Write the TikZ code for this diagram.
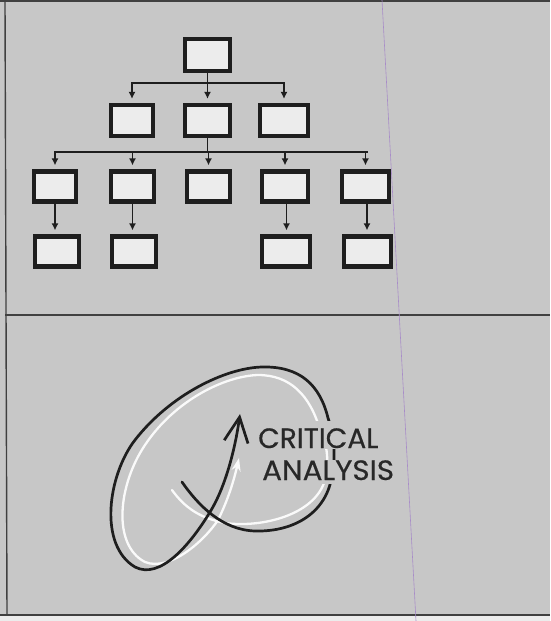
\documentclass[tikz,border=0pt]{standalone}
\usepackage{fontspec}
\setmainfont{Poppins}
\newfontfamily\labelfont{Poppins}[FakeBold=0.4]
\usetikzlibrary{arrows.meta}
\definecolor{bg}{RGB}{199,199,199}
\definecolor{stripc}{RGB}{236,236,236}
\definecolor{ink}{RGB}{30,30,30}
\definecolor{boxfill}{RGB}{236,236,236}
\definecolor{purp}{RGB}{168,140,200}
\definecolor{txt}{RGB}{40,40,40}
\tikzset{
  orgbox/.style={draw=ink, line width=4.2pt, fill=boxfill, inner sep=0pt, minimum height=30pt},
  conn/.style={draw=ink, line width=1.9pt},
  arr/.style={conn, -{Latex[length=7pt,width=7pt]}, shorten >=4pt},
  frame/.style={draw=ink!85, line width=1.4pt},
  lbl/.style={fill=bg, text=txt, inner xsep=2pt, inner ysep=0pt, font=\labelfont\fontsize{28}{30}\selectfont},
  blk/.style={draw=ink, line width=2.7pt, line cap=round},
  wht/.style={draw=white!96!gray, line width=2.3pt, line cap=round}
}
\begin{document}
\begin{tikzpicture}[x=1pt,y=-1pt]
\useasboundingbox (0,0) rectangle (550,621);
\fill[bg] (0,0) rectangle (550,616);
\fill[stripc] (0,616) rectangle (550,621);
% frame
\draw[frame] (0,1) -- (550,1);
\draw[frame] (5,0) -- (7,615);
\draw[frame] (5,315) -- (550,315);
\draw[frame] (0,615) -- (550,615);
\draw[purp, line width=0.6pt] (382,0) -- (416,621);

% org chart boxes
\node[orgbox, minimum width=45pt, minimum height=32pt] (t) at (207.5,55) {};
\node[orgbox, minimum width=42pt, minimum height=31pt] (a) at (132,120.5) {};
\node[orgbox, minimum width=45pt, minimum height=31pt] (b) at (207.5,120.5) {};
\node[orgbox, minimum width=48pt, minimum height=31pt] (c) at (284,120.5) {};
\node[orgbox, minimum width=42pt] (d) at (55,186.5) {};
\node[orgbox, minimum width=43pt] (e) at (132.5,186.5) {};
\node[orgbox, minimum width=43pt] (f) at (208.5,186.5) {};
\node[orgbox, minimum width=46pt] (g) at (285,186.5) {};
\node[orgbox, minimum width=47pt] (h) at (365.5,186.5) {};
\node[orgbox, minimum width=44pt] (i) at (57,251.5) {};
\node[orgbox, minimum width=44pt] (j) at (134,251.5) {};
\node[orgbox, minimum width=48pt] (k) at (286,251.5) {};
\node[orgbox, minimum width=47pt] (l) at (367.5,251.5) {};

% connectors
\coordinate (bus1) at (0,83);
\coordinate (bus2) at (0,152);
\draw[conn] (t.south) -- (t.south |- bus1);
\draw[conn] ([xshift=-1pt]a |- bus1) -- ([xshift=1pt]c |- bus1);
\draw[arr] (a |- bus1) -- (a.north);
\draw[arr] (b |- bus1) -- (b.north);
\draw[arr] (c |- bus1) -- (c.north);
\draw[conn] (b.south) -- (b.south |- bus2);
\draw[conn] ([xshift=-1pt]d |- bus2) -- ([xshift=2pt]h |- bus2);
\draw[arr] (d |- bus2) -- (d.north);
\draw[arr] (e |- bus2) -- (e.north);
\draw[arr] (f |- bus2) -- (f.north);
\draw[arr] (g |- bus2) -- (g.north);
\draw[arr] (h |- bus2) -- (h.north);
\draw[arr] (d.south) -- (d.south |- i.north);
\draw[arr] (e.south) -- (e.south |- j.north);
\draw[arr] ([xshift=1.5pt]g.south) -- ([xshift=1.5pt]g.south |- k.north);
\draw[arr] ([xshift=1.5pt]h.south) -- ([xshift=1.5pt]h.south |- l.north);

% critical analysis loop: white highlight, then black stroke
\draw[wht, -{Stealth[length=13pt,width=9pt]}]
  (172,490) .. controls (185,508) and (200,518) .. (225,523)
  .. controls (262,528) and (315,515) .. (325,480)
  .. controls (330,460) and (326,440) .. (320,430)
  .. controls (310,395) and (290,375) .. (258,375)
  .. controls (225,376) and (175,400) .. (145,445)
  .. controls (118,485) and (112,545) .. (145,562)
  .. controls (170,572) and (205,540) .. (218,520)
  .. controls (228,500) and (234,480) .. (239,458);
\draw[blk, -{Straight Barb[length=25pt,width=24pt]}]
  (182,482) .. controls (198,505) and (222,530) .. (255,531)
  .. controls (295,532) and (327,512) .. (332,475)
  .. controls (336,455) and (334,435) .. (328,418)
  .. controls (320,385) and (300,366) .. (262,367)
  .. controls (225,368) and (170,395) .. (135,440)
  .. controls (108,475) and (98,545) .. (135,567)
  .. controls (160,580) and (190,545) .. (210,512)
  .. controls (225,488) and (235,450) .. (240,414);

\node[lbl, anchor=base west, text height=27pt, text depth=1pt] (crit) at (256,448) {CRITICAL};
\node[lbl, anchor=base west, text height=20pt, text depth=4pt] (anal) at (260,480) {\scalebox{1.05}[1]{ANALYSIS}};
\end{tikzpicture}
\end{document}
